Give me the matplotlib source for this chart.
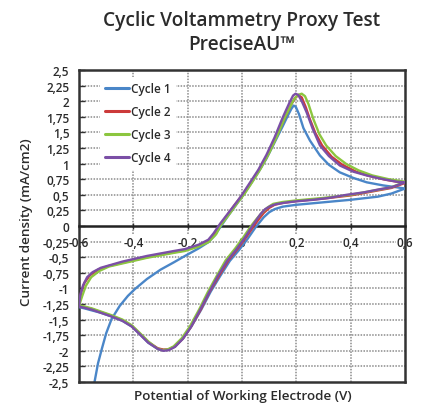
import matplotlib
matplotlib.use("Agg")
import matplotlib.pyplot as plt

plt.rcParams['font.family'] = ['Open Sans', 'DejaVu Sans']

title_lines = ["Cyclic Voltammetry Proxy Test", "PreciseAU\u2122"]
x_label = "Potential of Working Electrode (V)"
y_label = "Current density (mA/cm2)"
series_names = ["Cycle 1", "Cycle 2", "Cycle 3", "Cycle 4"]
colors = ["#4a86c8", "#cc3a3a", "#8cc63f", "#7b4fa6"]

x_ticks = [-0.6, -0.4, -0.2, 0.0, 0.2, 0.4, 0.6]
x_tick_labels = ["-0,6", "-0,4", "-0,2", "0", "0,2", "0,4", "0,6"]
y_ticks = [2.5, 2.25, 2.0, 1.75, 1.5, 1.25, 1.0, 0.75, 0.5, 0.25, 0.0,
           -0.25, -0.5, -0.75, -1.0, -1.25, -1.5, -1.75, -2.0, -2.25, -2.5]
y_tick_labels = ["2,5", "2,25", "2", "1,75", "1,5", "1,25", "1", "0,75", "0,5", "0,25", "0",
                 "-0,25", "-0,5", "-0,75", "-1", "-1,25", "-1,5", "-1,75", "-2", "-2,25", "-2,5"]

# Cycle 1 (blue): potential (V) and current density (mA/cm2), in scan order
c1_E = [-0.545, -0.53, -0.516, -0.50, -0.48, -0.45, -0.42, -0.394, -0.35, -0.30, -0.25, -0.21,
        -0.16, -0.124, -0.10, -0.085, -0.05, -0.02, 0.0, 0.03, 0.06, 0.09, 0.12, 0.15, 0.17,
        0.182, 0.19, 0.198, 0.21, 0.226, 0.25, 0.287, 0.32, 0.36, 0.41, 0.459, 0.52, 0.57, 0.60,
        0.55, 0.50, 0.40, 0.30, 0.20, 0.15, 0.12, 0.10, 0.08, 0.065, 0.05, 0.02, -0.01, -0.045,
        -0.08, -0.115, -0.15, -0.185, -0.215, -0.245, -0.27, -0.29, -0.31, -0.345, -0.375,
        -0.406, -0.44, -0.48, -0.52, -0.555, -0.58, -0.60]
c1_j = [-2.55, -2.2, -1.97, -1.72, -1.49, -1.28, -1.12, -1.01, -0.85, -0.70, -0.58, -0.48,
        -0.36, -0.26, -0.15, -0.05, 0.17, 0.35, 0.47, 0.66, 0.86, 1.08, 1.34, 1.60, 1.78,
        1.88, 1.93, 1.91, 1.79, 1.57, 1.37, 1.13, 0.98, 0.86, 0.77, 0.70, 0.65, 0.62, 0.60,
        0.52, 0.47, 0.42, 0.38, 0.34, 0.31, 0.27, 0.22, 0.14, 0.06, -0.02, -0.21, -0.38, -0.56,
        -0.80, -1.05, -1.34, -1.60, -1.79, -1.93, -1.98, -1.99, -1.97, -1.87, -1.74,
        -1.61, -1.52, -1.45, -1.39, -1.35, -1.32, -1.30]

# Cycle 2 (red)
c2_E = [-0.60, -0.592, -0.58, -0.56, -0.53, -0.49, -0.44, -0.40, -0.35, -0.30, -0.25, -0.21,
        -0.16, -0.124, -0.10, -0.088, -0.055, -0.025, 0.0, 0.03, 0.06, 0.09, 0.12, 0.15, 0.18,
        0.195, 0.208, 0.22, 0.235, 0.25, 0.27, 0.295, 0.33, 0.37, 0.42, 0.47, 0.53, 0.57, 0.60,
        0.55, 0.50, 0.40, 0.30, 0.20, 0.15, 0.12, 0.10, 0.08, 0.062, 0.045, 0.015, -0.015, -0.05,
        -0.085, -0.12, -0.152, -0.187, -0.217, -0.247, -0.27, -0.29, -0.31, -0.345, -0.375,
        -0.406, -0.44, -0.48, -0.52, -0.553, -0.58, -0.60]
c2_j = [-1.28, -1.06, -0.91, -0.79, -0.70, -0.64, -0.59, -0.55, -0.50, -0.46, -0.42, -0.39,
        -0.32, -0.24, -0.12, -0.03, 0.17, 0.35, 0.49, 0.68, 0.88, 1.10, 1.37, 1.66, 1.94,
        2.05, 2.10, 2.06, 1.90, 1.71, 1.49, 1.29, 1.11, 0.98, 0.87, 0.80, 0.74, 0.71, 0.69,
        0.61, 0.57, 0.49, 0.44, 0.40, 0.37, 0.34, 0.29, 0.21, 0.11, 0.01, -0.18, -0.36, -0.55,
        -0.80, -1.06, -1.34, -1.61, -1.80, -1.93, -1.98, -1.98, -1.96, -1.86, -1.73,
        -1.60, -1.51, -1.44, -1.38, -1.33, -1.30, -1.28]

# Cycle 3 (green)
c3_E = [-0.60, -0.588, -0.575, -0.555, -0.525, -0.49, -0.44, -0.40, -0.35, -0.30, -0.25, -0.21,
        -0.16, -0.124, -0.095, -0.08, -0.045, -0.015, 0.01, 0.04, 0.07, 0.10, 0.13, 0.16, 0.19,
        0.205, 0.22, 0.232, 0.245, 0.263, 0.285, 0.31, 0.345, 0.385, 0.43, 0.48, 0.54, 0.57, 0.60,
        0.55, 0.50, 0.40, 0.30, 0.20, 0.15, 0.115, 0.095, 0.075, 0.055, 0.035, 0.005, -0.025, -0.06,
        -0.093, -0.126, -0.158, -0.192, -0.222, -0.252, -0.275, -0.293, -0.313, -0.345, -0.375,
        -0.406, -0.44, -0.48, -0.52, -0.553, -0.58, -0.60]
c3_j = [-1.28, -1.12, -0.96, -0.82, -0.72, -0.65, -0.60, -0.56, -0.51, -0.47, -0.43, -0.40,
        -0.33, -0.26, -0.13, 0.0, 0.20, 0.38, 0.52, 0.72, 0.93, 1.17, 1.45, 1.76, 2.02,
        2.10, 2.12, 2.08, 1.95, 1.71, 1.47, 1.29, 1.12, 0.99, 0.89, 0.81, 0.75, 0.73, 0.71,
        0.62, 0.58, 0.50, 0.45, 0.41, 0.385, 0.355, 0.30, 0.22, 0.12, 0.01, -0.18, -0.36, -0.55,
        -0.80, -1.06, -1.34, -1.61, -1.80, -1.93, -1.98, -1.99, -1.96, -1.85, -1.72,
        -1.59, -1.50, -1.43, -1.37, -1.32, -1.29, -1.27]

# Cycle 4 (purple)
c4_E = [-0.60, -0.595, -0.585, -0.57, -0.55, -0.52, -0.48, -0.44, -0.40, -0.35, -0.30, -0.25,
        -0.21, -0.16, -0.124, -0.105, -0.08, -0.05, -0.02, 0.0, 0.03, 0.06, 0.09, 0.12, 0.15,
        0.175, 0.188, 0.197, 0.207, 0.22, 0.238, 0.26, 0.287, 0.32, 0.36, 0.41, 0.459, 0.52, 0.57,
        0.60, 0.55, 0.508, 0.45, 0.385, 0.32, 0.263, 0.20, 0.16, 0.125, 0.105, 0.085, 0.068, 0.052,
        0.038, 0.01, -0.02, -0.055, -0.09, -0.122, -0.155, -0.188, -0.218, -0.248, -0.27, -0.29,
        -0.31, -0.345, -0.375, -0.406, -0.44, -0.48, -0.52, -0.553, -0.58, -0.60]
c4_j = [-1.28, -1.10, -0.95, -0.82, -0.74, -0.67, -0.62, -0.57, -0.53, -0.48, -0.44, -0.40,
        -0.37, -0.30, -0.22, -0.12, 0.04, 0.21, 0.38, 0.50, 0.70, 0.90, 1.14, 1.42, 1.74,
        1.98, 2.09, 2.12, 2.10, 2.00, 1.82, 1.56, 1.29, 1.12, 0.97, 0.87, 0.81, 0.75, 0.71,
        0.70, 0.62, 0.59, 0.54, 0.50, 0.45, 0.42, 0.395, 0.375, 0.35, 0.32, 0.27, 0.19, 0.09,
        0.0, -0.19, -0.37, -0.56, -0.81, -1.07, -1.35, -1.62, -1.81, -1.94, -1.99, -2.0,
        -1.97, -1.87, -1.74, -1.61, -1.52, -1.45, -1.39, -1.34, -1.31, -1.29]

cycles_E = [c1_E, c2_E, c3_E, c4_E]
cycles_j = [c1_j, c2_j, c3_j, c4_j]

W, H = 425, 406
fig = plt.figure(figsize=(W / 100, H / 100), dpi=100)
ax = fig.add_axes([79 / W, 1 - 383 / H, (405 - 79) / W, (383 - 71) / H])

text_color = "#2b2b2b"
frame_color = "#333333"
grid_color = "#8c8c8c"

for E, j, c, name in zip(cycles_E, cycles_j, colors, series_names):
    ax.plot(E, j, color=c, lw=1.7, label=name, solid_capstyle='round', zorder=3)

ax.set_xlim(-0.6, 0.6)
ax.set_ylim(-2.5, 2.5)

# dotted grid
for xv in x_ticks[1:-1]:
    ax.axvline(xv, color=grid_color, lw=1.1, ls=(0, (1, 0.9)), zorder=1)
for yv in y_ticks[1:-1]:
    if yv != 0:
        ax.axhline(yv, color=grid_color, lw=1.1, ls=(0, (1, 0.9)), zorder=1)

for s in ax.spines.values():
    s.set_color(frame_color)
    s.set_linewidth(1.8)
# the x axis runs through zero current; bottom of the frame drawn separately
ax.spines['bottom'].set_position(('data', 0))
ax.spines['bottom'].set_color("#222222")
ax.plot([0, 1], [0, 0], transform=ax.transAxes, color=frame_color, lw=1.8,
        clip_on=False, zorder=4, solid_capstyle='projecting')

ax.set_yticks(y_ticks)
ax.set_yticklabels(y_tick_labels)
ax.tick_params(axis='y', direction='in', length=4, width=1, color=frame_color, pad=7,
               labelsize=8.5, labelcolor=text_color)
for lab in ax.get_yticklabels():
    lab.set_fontweight('semibold')

ax.set_xticks(x_ticks)
ax.set_xticklabels(x_tick_labels)
ax.tick_params(axis='x', direction='inout', length=4, width=1, color=frame_color, pad=5,
               labelsize=8.5, labelcolor=text_color)
for lab in ax.get_xticklabels():
    lab.set_fontweight('semibold')
    lab.set_bbox(dict(facecolor='white', edgecolor='none', pad=0.6))
    lab.set_zorder(6)

leg = ax.legend(loc='upper left', bbox_to_anchor=(0.064, 0.978), borderaxespad=0,
                frameon=True, facecolor='white', edgecolor='none', framealpha=1,
                fancybox=False, fontsize=8.5, handlelength=2.0, handletextpad=0.2,
                labelspacing=0.85, borderpad=0.45)
for t in leg.get_texts():
    t.set_color(text_color)
    t.set_fontweight('semibold')
for lh in leg.get_lines():
    lh.set_linewidth(2.2)
leg.set_zorder(5)

cx = 242 / W
fig.text(cx, 1 - 21 / H, title_lines[0], ha='center', va='center', fontsize=13.8,
         fontweight='semibold', color=text_color)
fig.text(cx, 1 - 45 / H, title_lines[1], ha='center', va='center', fontsize=13.8,
         fontweight='semibold', color=text_color)
fig.text(243 / W, 1 - 397 / H, x_label, ha='center', va='center', fontsize=9.7,
         fontweight='semibold', color=text_color)
fig.text(27 / W, 1 - 222 / H, y_label, ha='center', va='center', rotation=90, fontsize=9.7,
         fontweight='semibold', color=text_color)

fig.savefig("out.png", dpi=100, facecolor='white')
